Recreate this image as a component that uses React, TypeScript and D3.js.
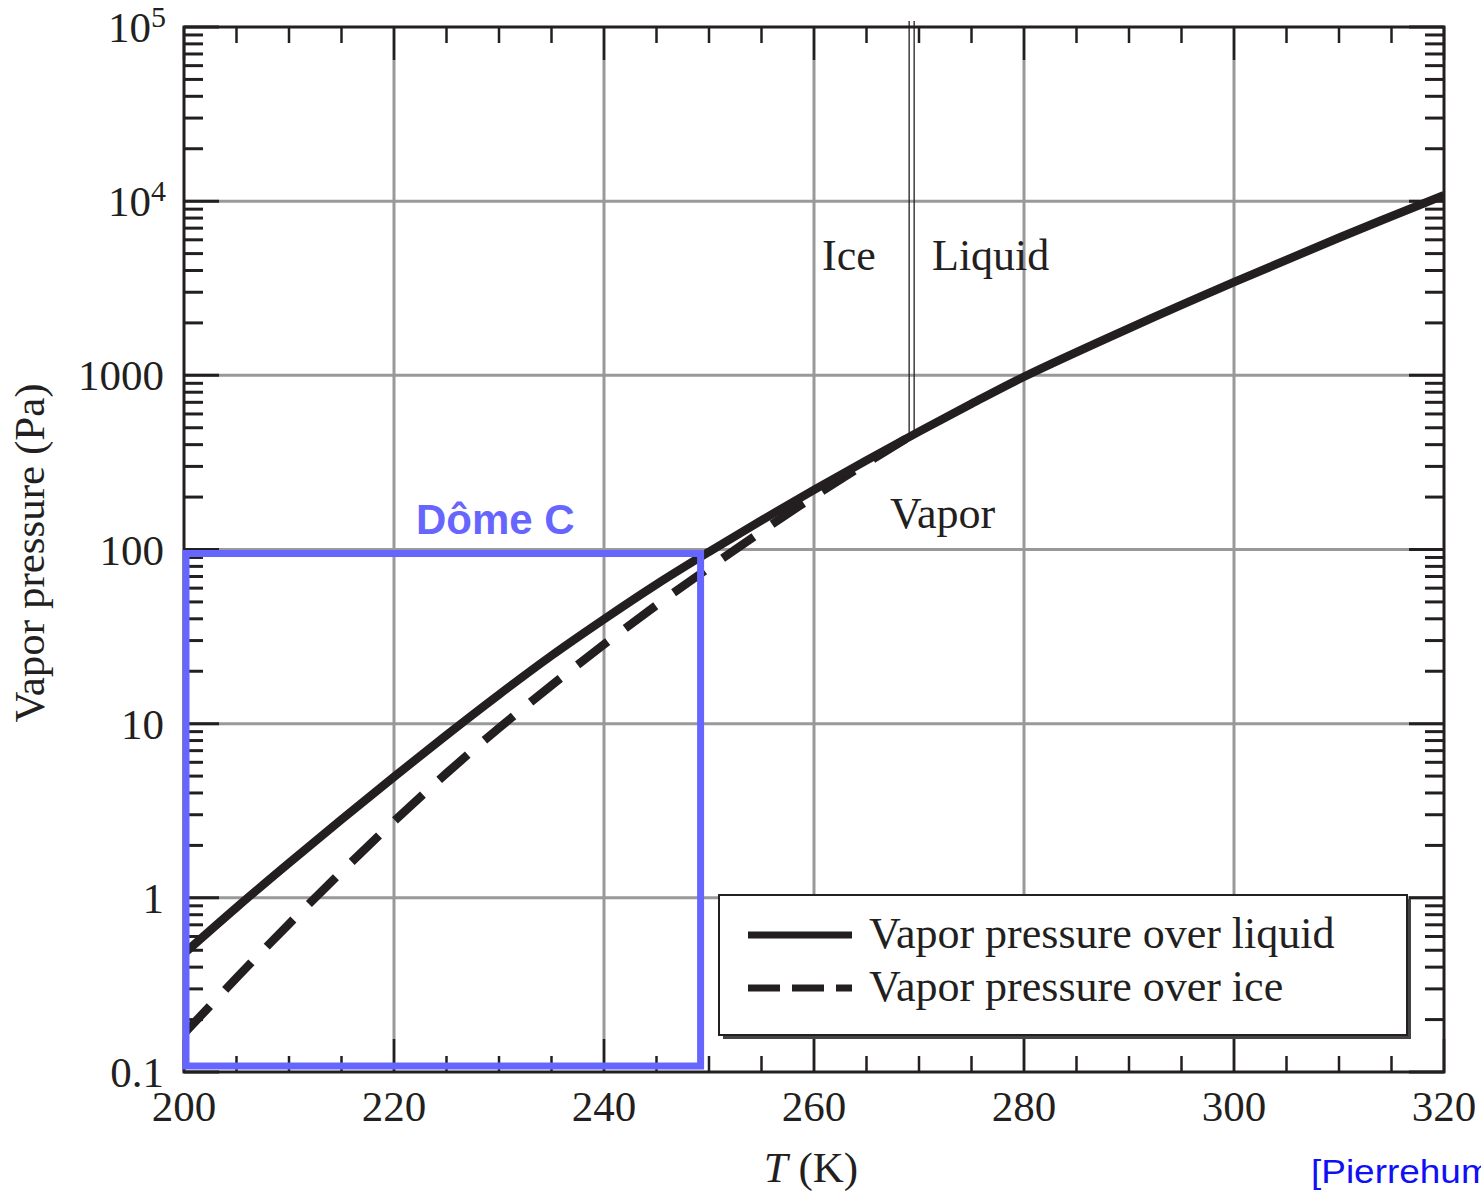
import React from "react";
import * as d3 from "d3";

// ---- data ----
const liquidT = [200, 205, 210, 215, 220, 225, 230, 235, 240, 245, 250, 255, 260, 265, 270, 275, 280, 290, 300, 310, 320];
const liquidP = [0.479, 0.881, 1.585, 2.82, 4.95, 8.6, 14.7, 24.6, 39.8, 63.1, 97, 147, 220, 325, 475, 687, 982, 1862, 3428, 6166, 10840];

const iceT = [200, 205, 210, 215, 220, 225, 230, 235, 240, 245, 250, 255, 260, 265, 269.3];
const iceP = [0.166, 0.347, 0.708, 1.41, 2.75, 5.19, 9.44, 16.6, 28.5, 47.9, 78.5, 127, 202, 313, 452];

const xTickLabels = [200, 220, 240, 260, 280, 300, 320];
const xMinorStep = 5;
const yDecades = [0.1, 1, 10, 100, 1000, 1e4, 1e5];
const yTickLabels = ["0.1", "1", "10", "100", "1000", "10^4", "10^5"];
const gridT = [220, 240, 260, 280, 300];
const gridP = [1, 10, 100, 1000, 1e4];

const phaseBoundaryT = 269.3;
const domeC = { tMin: 200, tMax: 249.2, pMin: 0.1, pMax: 100 };
const legendItems = ["Vapor pressure over liquid", "Vapor pressure over ice"];

const INK = "#231f20";
const GRID = "#999999";
const SERIF = "'Liberation Serif', 'Times New Roman', serif";
const SANS = "'Liberation Sans', Arial, sans-serif";

export default function App() {
  const W = 1481, H = 1191;
  const x = d3.scaleLinear().domain([200, 320]).range([184, 1444]);
  const y = d3.scaleLog().domain([0.1, 1e5]).range([1072, 27]);
  const [x0, x1] = x.range();
  const [y0, y1] = y.range();

  const line = d3
    .line<[number, number]>()
    .x((d) => x(d[0]))
    .y((d) => y(d[1]))
    .curve(d3.curveCatmullRom.alpha(0.5));

  const liquidPath = line(liquidT.map((t, i) => [t, liquidP[i]]))!;
  const icePath = line(iceT.map((t, i) => [t, iceP[i]]))!;

  const xMinor = d3.range(200, 320 + 0.001, xMinorStep);
  const yMinor: number[] = [];
  for (let e = -1; e < 5; e++) {
    for (let k = 2; k <= 9; k++) yMinor.push(k * Math.pow(10, e));
  }

  const liqAtBoundary = Math.pow(
    10,
    d3.interpolateNumber(Math.log10(475), Math.log10(325))((270 - phaseBoundaryT) / 5)
  );

  const renderYLabel = (lab: string, v: number) => {
    const yy = y(v) + 15;
    if (lab.includes("^")) {
      const [base, exp] = lab.split("^");
      return (
        <text key={lab} x={166} y={yy} textAnchor="end" fontFamily={SERIF} fontSize={43} fill={INK}>
          {base}
          <tspan dy={-15} fontSize={30}>{exp}</tspan>
        </text>
      );
    }
    return (
      <text key={lab} x={164} y={yy} textAnchor="end" fontFamily={SERIF} fontSize={43} fill={INK}>
        {lab}
      </text>
    );
  };

  return (
    <svg width={W} height={H} style={{ position: "absolute", left: 0, top: 0, background: "#fff" }}>
      <defs>
        <clipPath id="plotClip">
          <rect x={x0} y={y1} width={x1 - x0} height={y0 - y1} />
        </clipPath>
      </defs>
      <rect x={0} y={0} width={W} height={H} fill="#fff" />

      {/* grid */}
      {gridT.map((t) => (
        <line key={"gx" + t} x1={x(t)} x2={x(t)} y1={y1} y2={y0} stroke={GRID} strokeWidth={3} />
      ))}
      {gridP.map((p) => (
        <line key={"gy" + p} x1={x0} x2={x1} y1={y(p)} y2={y(p)} stroke={GRID} strokeWidth={3} />
      ))}

      {/* x ticks (bottom & top) */}
      {xMinor.map((t) => {
        const major = xTickLabels.includes(t);
        const L = major ? 33 : 16;
        return (
          <g key={"xt" + t}>
            <line x1={x(t)} x2={x(t)} y1={y0} y2={y0 - L} stroke={INK} strokeWidth={2.5} />
            <line x1={x(t)} x2={x(t)} y1={y1} y2={y1 + L} stroke={INK} strokeWidth={2.5} />
          </g>
        );
      })}
      {/* y ticks (left & right) */}
      {yMinor.map((p) => (
        <g key={"ym" + p}>
          <line x1={x0} x2={x0 + 19} y1={y(p)} y2={y(p)} stroke={INK} strokeWidth={3} />
          <line x1={x1} x2={x1 - 19} y1={y(p)} y2={y(p)} stroke={INK} strokeWidth={3} />
        </g>
      ))}
      {yDecades.map((p) => (
        <g key={"yM" + p}>
          <line x1={x0} x2={x0 + 35} y1={y(p)} y2={y(p)} stroke={INK} strokeWidth={3} />
          <line x1={x1} x2={x1 - 35} y1={y(p)} y2={y(p)} stroke={INK} strokeWidth={3} />
        </g>
      ))}

      {/* phase boundary double line */}
      {[-2.5, 2.5].map((dx) => (
        <line
          key={"pb" + dx}
          x1={x(phaseBoundaryT) + dx}
          x2={x(phaseBoundaryT) + dx}
          y1={y1 - 6}
          y2={y(liqAtBoundary)}
          stroke={INK}
          strokeWidth={1.3}
        />
      ))}

      {/* curves */}
      <g clipPath="url(#plotClip)">
        <path d={icePath} fill="none" stroke={INK} strokeWidth={8.5} strokeDasharray="38 22" />
        <path d={liquidPath} fill="none" stroke={INK} strokeWidth={8.5} />
      </g>

      {/* frame */}
      <rect x={x0} y={y1} width={x1 - x0} height={y0 - y1} fill="none" stroke={INK} strokeWidth={3} />

      {/* region labels */}
      <text x={822} y={270} fontFamily={SERIF} fontSize={44} fill={INK}>Ice</text>
      <text x={932} y={270} fontFamily={SERIF} fontSize={44} fill={INK}>Liquid</text>
      <text x={890} y={528} fontFamily={SERIF} fontSize={44} fill={INK}>Vapor</text>

      {/* legend */}
      <rect x={723} y={899} width={688} height={140} fill="#444" />
      <rect x={719} y={895} width={688} height={140} fill="#fff" stroke={INK} strokeWidth={2} />
      <line x1={748} x2={852} y1={935} y2={935} stroke={INK} strokeWidth={7} />
      <line x1={748} x2={852} y1={988} y2={988} stroke={INK} strokeWidth={7} strokeDasharray="32 12" />
      <text x={869} y={948} fontFamily={SERIF} fontSize={44} fill={INK}>{legendItems[0]}</text>
      <text x={869} y={1001} fontFamily={SERIF} fontSize={44} fill={INK}>{legendItems[1]}</text>

      {/* tick labels */}
      {xTickLabels.map((t) => (
        <text key={"xl" + t} x={x(t)} y={1121} textAnchor="middle" fontFamily={SERIF} fontSize={43} fill={INK}>
          {t}
        </text>
      ))}
      {yTickLabels.map((lab, i) => renderYLabel(lab, yDecades[i]))}

      {/* axis titles */}
      <text x={811} y={1182} textAnchor="middle" fontFamily={SERIF} fontSize={43} fill={INK}>
        <tspan fontStyle="italic">T</tspan> (K)
      </text>
      <text
        transform={`translate(44, 553) rotate(-90)`}
        textAnchor="middle"
        fontFamily={SERIF}
        fontSize={43}
        fill={INK}
      >
        Vapor pressure (Pa)
      </text>

      {/* Dôme C box */}
      <rect
        x={x(domeC.tMin) + 2}
        y={y(domeC.pMax) + 4}
        width={x(domeC.tMax) - x(domeC.tMin) - 2}
        height={y(domeC.pMin) - y(domeC.pMax) - 10}
        fill="none"
        stroke="#6666ff"
        strokeWidth={7}
      />
      <text x={416} y={534} fontFamily={SANS} fontWeight="bold" fontSize={42} fill="#6666ff">
        Dôme C
      </text>

      {/* citation (cut at the page edge, as in the reference) */}
      <text transform="translate(1311, 1183) scale(1.12, 1)" fontFamily={SANS} fontSize={33} fill="#1010f5">
        [Pierrehumbert 2010]
      </text>
    </svg>
  );
}
